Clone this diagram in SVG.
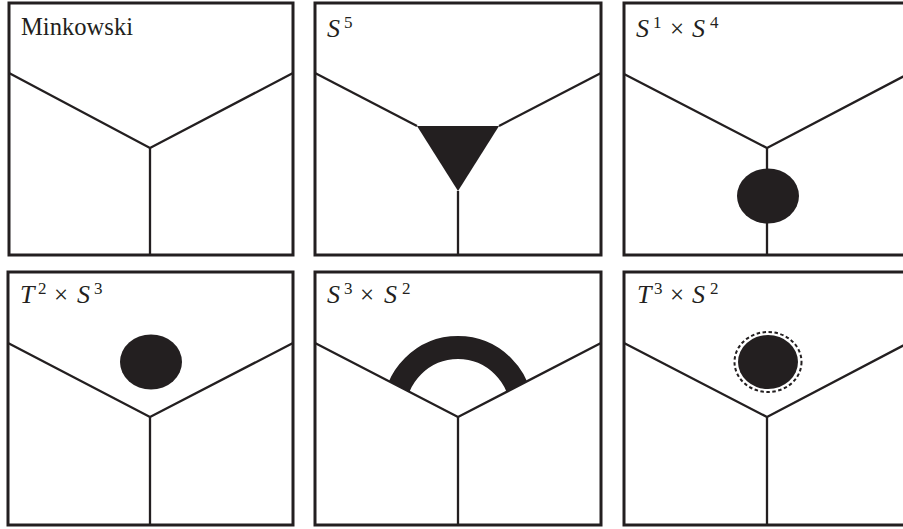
<svg xmlns="http://www.w3.org/2000/svg" width="903" height="529" viewBox="0 0 903 529">
<style>
.frame{fill:#fff;stroke:#231f20;stroke-width:3}
.ln{fill:none;stroke:#231f20;stroke-width:2.3;stroke-linejoin:miter}
.blob{fill:#231f20}
.lbl{font-family:"Liberation Serif","DejaVu Serif",serif;font-size:25px;fill:#231f20}
.it{font-style:italic;font-size:26px}
.sup{font-size:17px}
</style>
<defs>
<clipPath id="aboveV"><polygon points="315,272 601,272 601,343 458,417 315,343"/></clipPath>
</defs>
<g id="minkowski">
<rect class="frame" x="9" y="3" width="284" height="252"/>
<text class="lbl" x="21" y="35" textLength="112" lengthAdjust="spacingAndGlyphs">Minkowski</text>
</g>
<g id="s5">
<rect class="frame" x="315" y="3" width="286" height="252"/>
<text class="lbl"><tspan class="it" x="327" y="37">S</tspan><tspan class="sup" x="344" y="28">5</tspan></text>
<polygon class="blob" points="417,126 499,126 458,191"/>
</g>
<g id="s1xs4">
<rect class="frame" x="624" y="3" width="286" height="252"/>
<text class="lbl"><tspan class="it" x="636" y="37">S</tspan><tspan class="sup" x="653" y="28">1</tspan><tspan x="670" y="37">×</tspan><tspan class="it" x="692" y="37">S</tspan><tspan class="sup" x="710" y="28">4</tspan></text>
</g>
<g id="t2xs3">
<rect class="frame" x="8" y="272" width="285" height="253"/>
<text class="lbl"><tspan class="it" x="20" y="303">T</tspan><tspan class="sup" x="38" y="294">2</tspan><tspan x="54" y="303">×</tspan><tspan class="it" x="77" y="303">S</tspan><tspan class="sup" x="94" y="294">3</tspan></text>
</g>
<g id="s3xs2">
<rect class="frame" x="315" y="272" width="286" height="253"/>
<text class="lbl"><tspan class="it" x="327" y="303">S</tspan><tspan class="sup" x="344" y="294">3</tspan><tspan x="360" y="303">×</tspan><tspan class="it" x="384" y="303">S</tspan><tspan class="sup" x="402" y="294">2</tspan></text>
<circle cx="458" cy="411" r="63.5" fill="none" stroke="#231f20" stroke-width="23" clip-path="url(#aboveV)"/>
</g>
<g id="t3xs2">
<rect class="frame" x="624" y="272" width="286" height="253"/>
<text class="lbl"><tspan class="it" x="637" y="303">T</tspan><tspan class="sup" x="654" y="294">3</tspan><tspan x="670" y="303">×</tspan><tspan class="it" x="692" y="303">S</tspan><tspan class="sup" x="710" y="294">2</tspan></text>
</g>
<g id="connectors">
<polyline class="ln" points="9,73 150,148 293,73"/>
<line class="ln" x1="150" y1="148" x2="150" y2="255"/>
<polyline class="ln" points="315,73 417,126"/>
<polyline class="ln" points="499,126 601,73"/>
<line class="ln" x1="458" y1="191" x2="458" y2="255"/>
<polyline class="ln" points="624,74 767,148 910,73"/>
<line class="ln" x1="767" y1="148" x2="767" y2="255"/>
<polyline class="ln" points="8,343 150,417 293,343"/>
<line class="ln" x1="150" y1="417" x2="150" y2="525"/>
<polyline class="ln" points="315,343 458,417 601,343"/>
<line class="ln" x1="458" y1="417" x2="458" y2="525"/>
<polyline class="ln" points="624,343 767,417 910,342"/>
<line class="ln" x1="767" y1="417" x2="767" y2="525"/>
</g>
<g id="blobs">
<ellipse class="blob" cx="768" cy="196" rx="31" ry="27.5"/>
<ellipse class="blob" cx="151" cy="362" rx="31" ry="27.5"/>
<ellipse class="blob" cx="768" cy="362" rx="30" ry="27"/>
<ellipse cx="768" cy="362" rx="33.5" ry="30" fill="none" stroke="#231f20" stroke-width="2" stroke-dasharray="3.5,2.5"/>
</g>
</svg>
